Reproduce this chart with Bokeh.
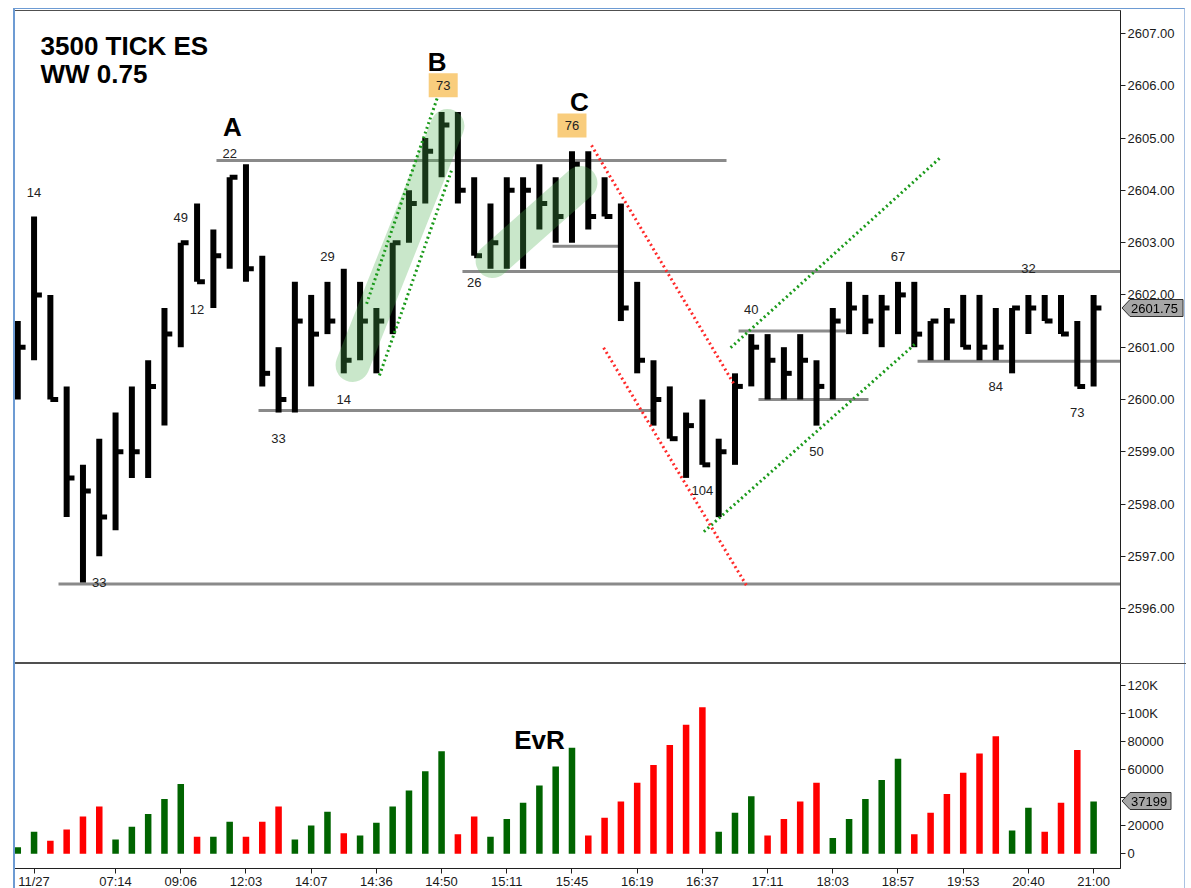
from bokeh.plotting import figure
from bokeh.layouts import column, row
from bokeh.models import (Range1d, FixedTicker, ColumnDataSource, NumeralTickFormatter, Div)
from bokeh.core.properties import value
from bokeh.embed import file_html
from bokeh.resources import INLINE

# ---------------- data ----------------
bar_index = list(range(67))
high = [2601.5, 2603.5, 2602.0, 2600.25, 2598.75, 2599.25, 2599.75, 2600.25, 2600.75, 2601.75,
        2603.0, 2603.75, 2603.25, 2604.25, 2604.5, 2602.75, 2601.0, 2602.25, 2602.0, 2602.25,
        2602.5, 2602.25, 2601.75, 2603.0, 2604.0, 2605.0, 2605.5, 2605.5, 2604.25, 2603.75,
        2604.25, 2604.25, 2604.5, 2604.25, 2604.75, 2604.75, 2604.25, 2603.75, 2602.25, 2600.75,
        2600.25, 2599.75, 2600.0, 2599.25, 2600.5, 2601.25, 2601.25, 2601.0, 2601.25, 2600.75,
        2601.75, 2602.25, 2602.0, 2602.0, 2602.25, 2602.25, 2601.5, 2601.75, 2602.0, 2602.0,
        2601.75, 2601.75, 2602.0, 2602.0, 2602.0, 2601.5, 2602.0]
low = [2600.0, 2600.75, 2600.0, 2597.75, 2596.5, 2597.0, 2597.5, 2598.5, 2598.5, 2599.5,
       2601.0, 2602.25, 2601.75, 2602.5, 2602.25, 2600.25, 2599.75, 2599.75, 2600.25, 2601.25,
       2600.5, 2600.75, 2600.5, 2601.25, 2603.0, 2603.75, 2604.25, 2603.75, 2602.75, 2602.5,
       2602.5, 2602.5, 2603.25, 2603.0, 2603.0, 2603.25, 2603.5, 2601.5, 2600.5, 2599.5,
       2599.25, 2598.5, 2598.75, 2597.75, 2598.75, 2600.25, 2600.0, 2600.0, 2600.0, 2599.5,
       2600.0, 2601.25, 2601.25, 2601.0, 2601.25, 2601.0, 2600.75, 2600.75, 2601.0, 2600.75,
       2600.75, 2600.5, 2601.25, 2601.5, 2601.25, 2600.25, 2600.25]
close = [2601.0, 2602.0, 2600.0, 2598.5, 2598.25, 2597.75, 2599.0, 2599.0, 2600.25, 2601.25,
         2603.0, 2602.25, 2602.75, 2604.25, 2602.5, 2600.5, 2600.0, 2601.5, 2601.25, 2601.5,
         2600.75, 2601.5, 2601.5, 2603.0, 2603.75, 2604.75, 2605.25, 2604.0, 2602.75, 2603.0,
         2604.0, 2604.0, 2603.75, 2603.5, 2604.5, 2603.5, 2603.5, 2601.75, 2600.75, 2600.0,
         2599.25, 2599.5, 2598.75, 2599.0, 2600.25, 2601.0, 2600.75, 2600.5, 2600.75, 2600.25,
         2601.5, 2601.75, 2601.5, 2601.75, 2602.0, 2601.25, 2601.5, 2601.5, 2601.0, 2601.0,
         2601.0, 2601.75, 2601.75, 2601.5, 2601.25, 2600.25, 2601.75]
volume = [4750, 15700, 9300, 17300, 26600, 33700, 10200, 19200, 28300, 39000,
          49600, 12100, 12100, 22800, 12100, 22800, 33700, 10200, 20200, 29900,
          14700, 13100, 22100, 33700, 45100, 58700, 72900, 14000, 26600, 12100,
          24700, 36300, 48700, 62200, 75500, 13100, 25600, 37300, 50600, 63200,
          77400, 91900, 104300, 15700, 29200, 40900, 13100, 24700, 37300, 50600,
          11200, 24700, 39000, 52500, 67700, 14000, 29200, 42500, 57700, 71300,
          83600, 16600, 32800, 15700, 36300, 73900, 37199]
wave_dir = ["up", "up", "dn", "dn", "dn", "dn", "up", "up", "up", "up",
            "up", "dn", "up", "up", "dn", "dn", "dn", "up", "up", "up",
            "dn", "up", "up", "up", "up", "up", "up", "dn", "dn", "up",
            "up", "up", "up", "up", "up", "dn", "dn", "dn", "dn", "dn",
            "dn", "dn", "dn", "up", "up", "up", "dn", "dn", "dn", "dn",
            "up", "up", "up", "up", "up", "dn", "dn", "dn", "dn", "dn",
            "dn", "up", "up", "dn", "dn", "dn", "up"]
time_tick_bars = [1, 6, 10, 14, 18, 22, 26, 30, 34, 38, 42, 46, 50, 54, 58, 62, 66]
time_tick_labels = ["11/27", "07:14", "09:06", "12:03", "14:07", "14:36", "14:50", "15:11",
                    "15:45", "16:19", "16:37", "17:11", "18:03", "18:57", "19:53", "20:40", "21:00"]
price_ticks = [2596, 2597, 2598, 2599, 2600, 2601, 2602, 2603, 2604, 2605, 2606, 2607]
volume_ticks = [0, 20000, 40000, 60000, 80000, 100000, 120000]
volume_tick_labels = ["0", "20000", "40000", "60000", "80000", "100K", "120K"]

# wave volume labels (text, bar, price position)
wave_text = ["14", "49", "12", "22", "33", "33", "29", "14", "26", "104", "40", "50", "67", "32", "84", "73"]
wave_bar = [1, 10, 11, 13, 5, 16, 19, 20, 28, 42, 45, 49, 54, 62, 60, 65]
wave_price = [2603.96, 2603.49, 2601.73, 2604.71, 2596.5, 2599.25, 2602.73, 2599.99, 2602.24,
              2598.25, 2601.73, 2599.01, 2602.73, 2602.5, 2600.25, 2599.76]
boxed_text = ["73", "76"]
boxed_bar = [26.1, 34.0]
boxed_price = [2606.01, 2605.24]

# horizontal levels (price, from bar, to bar)
level_price = [2604.57, 2602.45, 2602.93, 2599.79, 2596.47, 2601.31, 2600.0, 2600.73]
level_from = [12.19, 27.28, 32.81, 14.77, 2.5, 44.22, 45.44, 55.2]
level_to = [43.48, 67.7, 37.1, 38.84, 67.7, 50.8, 52.19, 67.7]

# trend lines (bar0, price0, bar1, price1)
green_lines = [(21.4, 2601.83, 25.75, 2605.78), (22.19, 2600.46, 26.61, 2604.38),
               (43.73, 2600.99, 56.61, 2604.63), (42.09, 2597.47, 55.08, 2601.07)]
red_lines = [(35.2, 2604.86, 43.91, 2600.31), (35.94, 2600.99, 44.71, 2596.44)]
highlights = [(20.54, 2600.66, 26.36, 2605.23), (29.13, 2602.65, 34.52, 2604.14)]

# ---------------- layout ----------------
FONT = "Liberation Sans"
X0, X1 = -0.2, 67.65
P0, P1 = 2594.95, 2607.44
V0, V1 = -10460, 135440
LEFT, TOP, FW, PH, VH, RIGHT = 14, 10, 1106, 653, 205, 70

xr = Range1d(X0, X1)

p = figure(frame_width=FW, frame_height=PH, x_range=xr, y_range=Range1d(P0, P1),
           output_backend="svg", toolbar_location=None, y_axis_location="right",
           x_axis_location=None, min_border_left=LEFT, min_border_top=TOP,
           min_border_bottom=0, min_border_right=RIGHT)
p.grid.visible = False
p.outline_line_color = "#505050"

ya = p.yaxis[0]
ya.ticker = FixedTicker(ticks=price_ticks)
ya.formatter = NumeralTickFormatter(format="0.00")
ya.major_label_text_font = FONT
ya.major_label_text_font_size = "13px"
ya.major_label_text_color = "#1a1a1a"
ya.major_tick_out = 5
ya.major_tick_in = 0
ya.minor_tick_line_color = None
ya.axis_line_color = "#202020"
ya.major_tick_line_color = "#202020"
ya.major_label_standoff = 2

# levels
for lp, lf, lt in zip(level_price, level_from, level_to):
    p.line([lf, lt], [lp, lp], line_color="#8a8a8a", line_width=3)

# bars (HLC)
src = ColumnDataSource(dict(x=bar_index, hi=high, lo=low, cl=close,
                            xt=[b + 0.48 for b in bar_index]))
p.segment("x", "lo", "x", "hi", source=src, line_width=6, line_color="black")
p.segment("x", "cl", "xt", "cl", source=src, line_width=5, line_color="black")

# highlight capsules
for b0, q0, b1, q1 in highlights:
    p.line([b0, b1], [q0, q1], line_width=34, line_cap="round",
           line_color="#4CAF50", line_alpha=0.3)

# trend lines
for b0, q0, b1, q1 in green_lines:
    p.line([b0, b1], [q0, q1], line_color="#1b9a1b", line_width=3, line_dash="2 3")
for b0, q0, b1, q1 in red_lines:
    p.line([b0, b1], [q0, q1], line_color="#ff2a2a", line_width=3, line_dash="2 3")

# boxed labels
p.rect(x=boxed_bar, y=boxed_price, width=29, height=24, width_units="screen",
       height_units="screen", fill_color="#F9CD7D", line_color=None)
p.text(x=boxed_bar, y=boxed_price, text=boxed_text, text_align="center",
       text_baseline="middle", text_font=value(FONT), text_font_size="13px",
       text_color="#222222")

# wave labels
p.text(x=wave_bar, y=wave_price, text=wave_text, text_align="center",
       text_baseline="middle", text_font=value(FONT), text_font_size="13px",
       text_color="#222222")

# big letters / title
p.text(x=[1.395, 1.395], y=[2606.77, 2606.22], text=["3500 TICK ES", "WW 0.75"],
       text_align="left", text_baseline="alphabetic", text_font=value(FONT),
       text_font_size="26px", text_font_style="bold", text_color="black")
p.text(x=[13.16, 25.73, 34.46], y=[2605.22, 2606.45, 2605.69], text=["A", "B", "C"],
       text_align="center", text_baseline="alphabetic", text_font=value(FONT),
       text_font_size="26px", text_font_style="bold", text_color="black")

# ---------------- volume panel ----------------
v = figure(frame_width=FW, frame_height=VH, x_range=xr, y_range=Range1d(V0, V1),
           output_backend="svg", toolbar_location=None, y_axis_location="right",
           min_border_left=LEFT, min_border_top=0, min_border_bottom=0, min_border_right=RIGHT)
v.grid.visible = False
v.outline_line_color = "#505050"

colors = ["#006400" if d == "up" else "#ff0000" for d in wave_dir]
v.vbar(x=bar_index, top=volume, bottom=0, width=0.4, fill_color=colors, line_color=None)

v.text(x=[32.01], y=[80640], text=["EvR"], text_align="center", text_baseline="alphabetic",
       text_font=value(FONT), text_font_size="26px", text_font_style="bold", text_color="black")

vy = v.yaxis[0]
vy.ticker = FixedTicker(ticks=volume_ticks)
vy.major_label_overrides = {t: l for t, l in zip(volume_ticks, volume_tick_labels)}
vx = v.xaxis[0]
vx.ticker = FixedTicker(ticks=time_tick_bars)
vx.major_label_overrides = {t: l for t, l in zip(time_tick_bars, time_tick_labels)}
for ax in (vx, vy):
    ax.major_label_text_font = FONT
    ax.major_label_text_font_size = "13px"
    ax.major_label_text_color = "#1a1a1a"
    ax.major_tick_out = 5
    ax.major_tick_in = 0
    ax.minor_tick_line_color = None
    ax.axis_line_color = "#202020"
    ax.major_tick_line_color = "#202020"
vx.major_label_standoff = 0
vy.major_label_standoff = 2

# ---------------- last-value callouts (overlay, placed from the data values) ----------------
axis_x = LEFT + FW
c = close[-1]
cy_price = TOP + (P1 - c) / (P1 - P0) * PH
cv = volume[-1]
cy_vol = TOP + PH + (V1 - cv) / (V1 - V0) * VH


def callout(txt, cy, w):
    return (f'<div style="position:fixed;left:{axis_x + 1}px;top:{cy - 10:.1f}px;'
            f'width:{w + 2}px;height:20px;pointer-events:none;z-index:20;">'
            f'<svg width="{w + 2}" height="20" xmlns="http://www.w3.org/2000/svg">'
            f'<polygon points="1,10 9,1.5 {w},1.5 {w},18.5 9,18.5" fill="#a6a6a6" '
            f'stroke="#303030" stroke-width="1"/>'
            f'<text x="10" y="14.5" font-family="{FONT}" font-size="13px" fill="#000">{txt}</text>'
            f'</svg></div>')


frame_deco = (f'<div style="position:fixed;left:{LEFT - 1}px;top:{TOP - 2}px;width:{FW + 66}px;'
              f'height:900px;border-left:2px solid #6d9bd3;border-top:1px solid #6d9bd3;'
              f'border-right:1px solid #a9c2e3;pointer-events:none;z-index:15;"></div>'
              f'<div style="position:fixed;left:{axis_x}px;top:{TOP + PH}px;width:66px;height:1px;'
              f'background:#505050;pointer-events:none;z-index:15;"></div>')

overlay = Div(text=frame_deco + callout(f"{c:.2f}", cy_price, 62) + callout(str(cv), cy_vol, 50),
              width=1, height=1, margin=0)

layout = row(column(p, v, spacing=0), overlay, spacing=0)
open("out.html", "w").write(file_html(layout, INLINE))
